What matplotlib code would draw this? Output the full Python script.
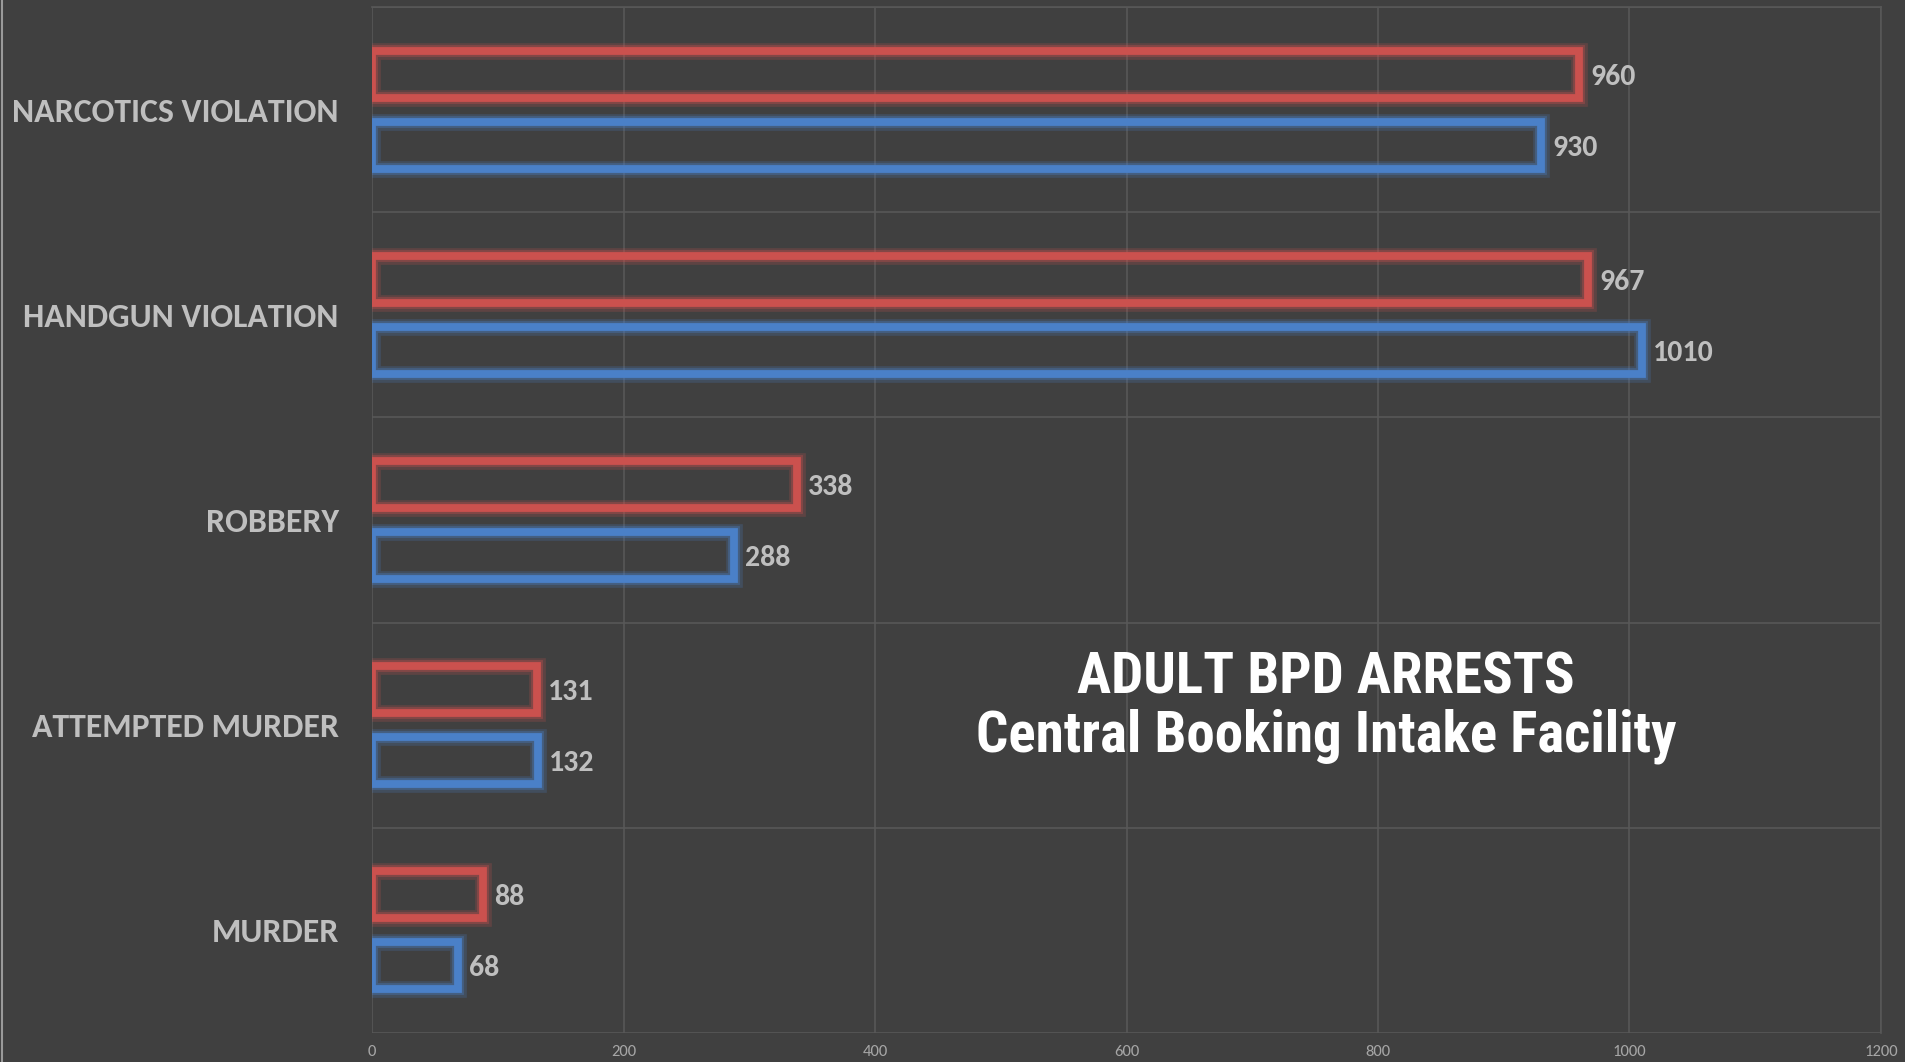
import matplotlib
matplotlib.use("Agg")
import matplotlib.pyplot as plt
import matplotlib.patheffects as pe
import numpy as np

categories = ["NARCOTICS VIOLATION", "HANDGUN VIOLATION", "ROBBERY", "ATTEMPTED MURDER", "MURDER"]
series_red = [960, 967, 338, 131, 88]
series_blue = [930, 1010, 288, 132, 68]
x_ticks = [0, 200, 400, 600, 800, 1000, 1200]
title_lines = ["ADULT BPD ARRESTS", "Central Booking Intake Facility"]

BG = "#404040"
RED = "#CB514E"
BLUE = "#4A80C8"
GRID = "#585858"
TXT = "#BFBFBF"
LABEL_FONT = ["Carlito", "Lato", "DejaVu Sans"]
TITLE_FONT = ["Roboto Condensed", "Liberation Sans"]

fig = plt.figure(figsize=(19.05, 10.62), dpi=100, facecolor=BG)
ax = fig.add_axes([372/1905, 1 - 1033/1062, (1881-372)/1905, (1033-7)/1062])
ax.set_facecolor(BG)

y = np.arange(len(categories))
off = 0.173
h = 0.23

def draw(vals, ypos, color):
    bars = ax.barh(ypos, vals, height=h, facecolor="none", edgecolor=color,
                   linewidth=5.6, zorder=3)
    for b in bars:
        b.set_path_effects([pe.Stroke(linewidth=12, foreground=color, alpha=0.22),
                            pe.Stroke(linewidth=8.5, foreground=color, alpha=0.35),
                            pe.Normal()])
    for v, yy in zip(vals, ypos):
        ax.annotate(str(v), (v, yy), xytext=(8, 0), textcoords="offset points",
                    ha="left", va="center_baseline", color=TXT, fontsize=21.5,
                    family=LABEL_FONT, fontweight="bold", zorder=4)

draw(series_red, y - off, RED)
draw(series_blue, y + off, BLUE)

ax.set_xlim(0, 1200)
ax.set_ylim(len(categories) - 0.5, -0.5)
ax.set_xticks(x_ticks)
ax.set_xticklabels([str(t) for t in x_ticks], fontsize=12, color="#A6A6A6",
                   family=LABEL_FONT)
ax.set_yticks(y)
ax.set_yticklabels(categories, fontsize=24.3, color=TXT, family=LABEL_FONT, fontweight="bold",
                   va="center_baseline")
ax.tick_params(axis="x", length=0, pad=9)
ax.tick_params(axis="y", length=0, pad=24)
ax.set_yticks(np.arange(len(categories) + 1) - 0.5, minor=True)
ax.tick_params(axis="y", which="minor", length=0)
ax.grid(axis="x", which="major", color=GRID, linewidth=1.2, zorder=0)
ax.grid(axis="y", which="minor", color=GRID, linewidth=1.2, zorder=0)
ax.grid(axis="y", which="major", visible=False)
for s in ["left", "bottom"]:
    ax.spines[s].set_visible(False)
for s in ["top", "right"]:
    ax.spines[s].set_color(GRID)
    ax.spines[s].set_linewidth(1.2)

# left border line of the figure
fig.add_artist(plt.Line2D([1.5/1905, 1.5/1905], [0, 1], color="#9A9A9A", linewidth=1.5))

fig.text(1326/1905, 1 - 678/1062, title_lines[0], ha="center", va="center",
         color="white", fontsize=41, fontweight="bold", family=TITLE_FONT)
fig.text(1326/1905, 1 - 736/1062, title_lines[1], ha="center", va="center",
         color="white", fontsize=41, fontweight="bold", family=TITLE_FONT)

fig.savefig("out.png", dpi=100, facecolor=BG)
